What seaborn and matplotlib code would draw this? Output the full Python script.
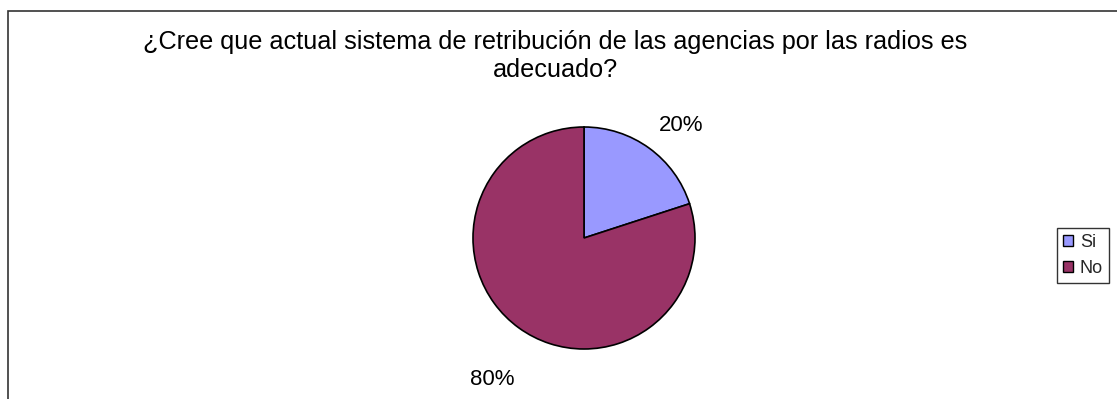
import matplotlib
matplotlib.use("Agg")
import matplotlib.pyplot as plt
import seaborn as sns
import numpy as np
from matplotlib.patches import Rectangle, Patch

categories = ["Si", "No"]
values = [20, 80]
pct_labels = ["20%", "80%"]
title = "¿Cree que actual sistema de retribución de las agencias por las radios es\nadecuado?"

sns.set_theme(style="white")
plt.rcParams["font.family"] = ["Liberation Sans", "DejaVu Sans"]
colors = sns.color_palette(["#9999FF", "#993366"])

W, H = 1117, 399
fig = plt.figure(figsize=(W / 100, H / 100), dpi=100)
fig.patch.set_facecolor("white")

# outer chart frame
fig.patches.append(Rectangle((8 / W, -0.05), 1.1, 1 - 11 / H + 0.05, transform=fig.transFigure,
                             fill=False, edgecolor="#333333", linewidth=1.2))

cx, cy, r = 584, 238, 111
ax = fig.add_axes([(cx - r) / W, (H - cy - r) / H, 2 * r / W, 2 * r / H])
wedges, _ = ax.pie(values, colors=colors, startangle=90, counterclock=False,
                   wedgeprops=dict(edgecolor="black", linewidth=1.2))
ax.set_xlim(-1, 1)
ax.set_ylim(-1, 1)
ax.set_aspect("equal")
ax.axis("off")

dists = [1.34, 1.52]
for w, lab, d in zip(wedges, pct_labels, dists):
    ang = np.deg2rad((w.theta1 + w.theta2) / 2 - 5 if lab == "20%" else (w.theta1 + w.theta2) / 2 + 3)
    ax.text(d * np.cos(ang), d * np.sin(ang), lab, ha="center", va="center",
            fontsize=16, color="black", clip_on=False)

fig.text(555 / W, 1 - 56 / H, title, ha="center", va="center", fontsize=18.2,
         linespacing=1.2, color="black")

handles = [Patch(facecolor=c, edgecolor="black", linewidth=1.0) for c in colors]
leg = fig.legend(handles, categories, loc="upper left", bbox_to_anchor=(1057 / W, 1 - 228 / H),
                 frameon=True, fancybox=False, fontsize=13, handlelength=0.55, handleheight=0.55,
                 handletextpad=0.4, labelspacing=0.5, borderpad=0.32, borderaxespad=0)
leg.get_frame().set_edgecolor("black")
leg.get_frame().set_linewidth(1.0)

fig.savefig("out.png", dpi=100)
